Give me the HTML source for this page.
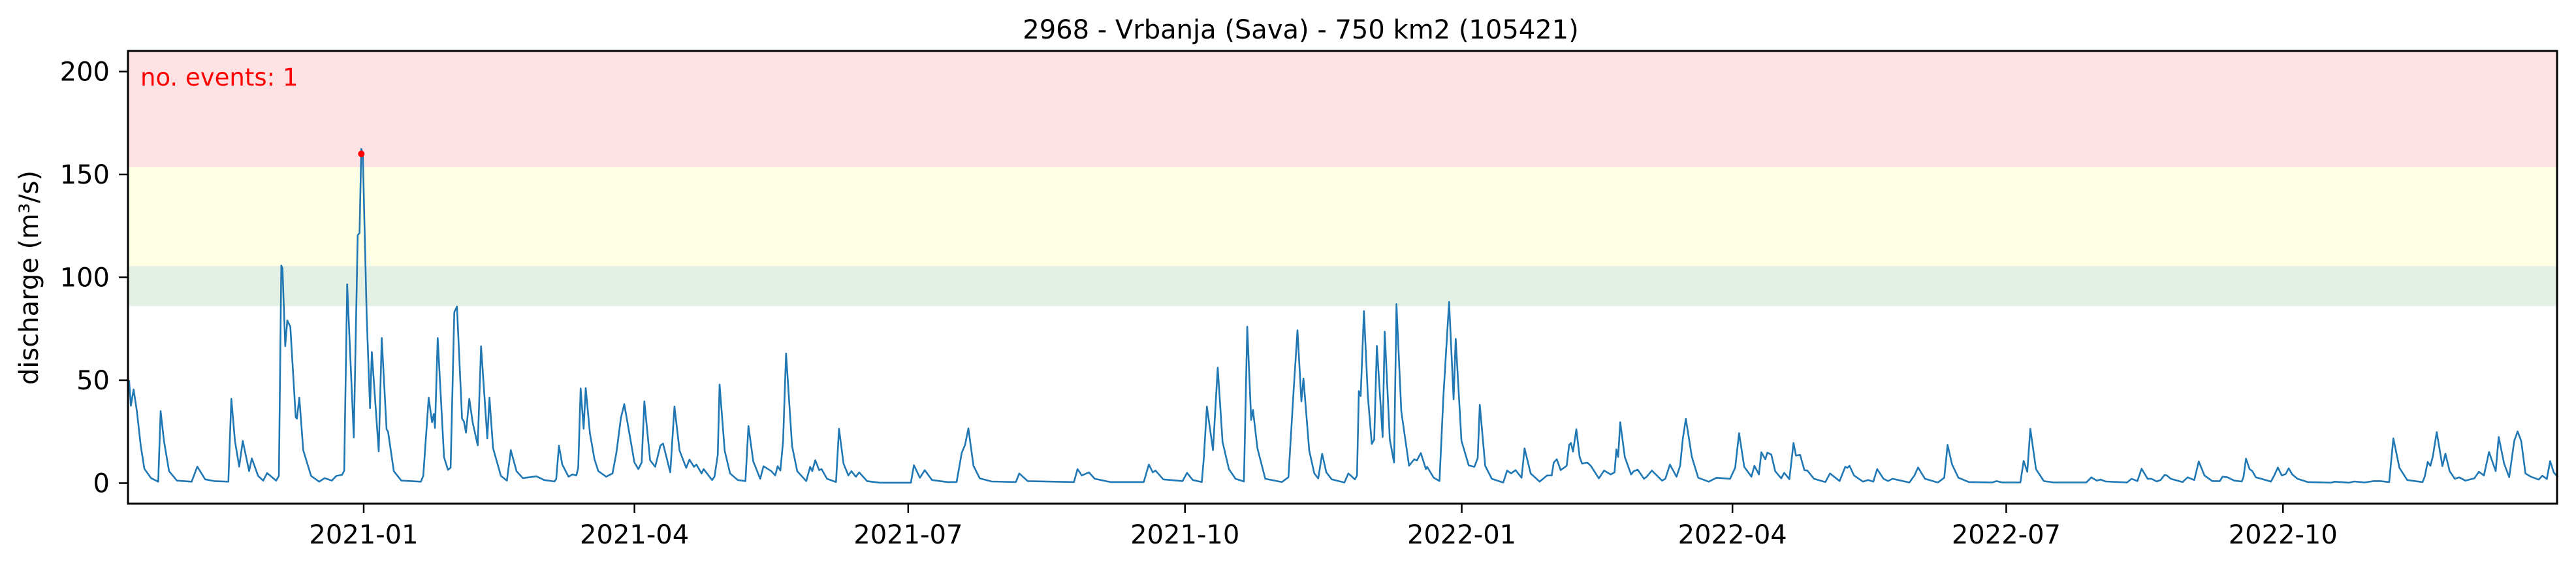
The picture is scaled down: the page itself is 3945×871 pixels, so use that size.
<!DOCTYPE html>
<html><head><meta charset="utf-8"><style>
html,body{margin:0;padding:0;background:#fff;}
svg{display:block;font-family:"DejaVu Sans","Liberation Sans",sans-serif;}
</style></head><body>
<svg id="chart" width="3945" height="871" viewBox="0 0 3945 871" xmlns="http://www.w3.org/2000/svg">
<text x="1992" y="59" font-size="40" text-anchor="middle" fill="#000">2968 - Vrbanja (Sava) - 750 km2 (105421)</text>
<g id="bands"></g>
<g id="grid"></g>
<g id="xaxis"></g>
<path id="series" fill="none" stroke="#1f77b4" stroke-width="2.6" stroke-linejoin="round"></path>
<circle id="event" r="5" fill="#ff0000"></circle>
<text x="215" y="131" font-size="37" fill="#ff0000">no. events: 1</text>
<rect x="196" y="78" width="3720" height="693" fill="none" stroke="#000" stroke-width="3"></rect>
<text transform="translate(58,425) rotate(-90)" font-size="40" text-anchor="middle" fill="#000">discharge (m³/s)</text>
</svg>
<script>
const days = [0,0.6,1.5,2.6,3.9,5.1,7.3,9.7,10.5,11.6,13.3,15.9,20.8,22.7,25.3,28.3,33,34,35.2,36.6,37.8,39.9,40.8,42.9,44.6,45.9,48.9,49.8,50.6,51,51.9,52.6,53.6,55.4,55.8,56.6,57.9,60.5,63.2,65,67.4,68.9,70.8,71.5,72.5,74.7,76,76.6,77.2,77.7,79,80.1,80.7,83,84,85.6,86.1,88,90.5,97,97.8,99.6,100.7,101.3,101.7,102.6,104.7,106,106.9,108.1,109,110.7,111.3,112,113.1,114.2,115.9,117,119.1,119.8,121,123.6,125.6,126.9,128.8,130.9,
135.4,138,141.4,142,142.9,144,146.1,147.4,148.7,149.3,150.1,151.1,151.8,153.2,154.7,156,158.6,160.7,162,163.5,164.6,166.3,168,169.3,170.4,171.3,173.2,174.9,176.6,177.5,179.9,181.3,183,185.2,186.3,187.8,188.6,190.3,191,193.8,194.6,195.7,196.3,198,199.8,202.3,204.9,205.9,207.5,209.8,210.9,213.5,214.8,215.6,216.5,217.4,218.4,220.4,222.1,225.1,226.4,227.1,228.1,229.4,230.2,232,235,236,237.5,239.1,240.1,241.6,242.7,245.3,249.5,259.9,260.9,262.9,
264.5,266.9,272.1,275.1,276.8,277.9,279,280.7,282.8,286.7,294.8,295.9,298.7,314.1,315.3,316.7,319.1,321,326.2,337.3,339,340.3,341.2,343.8,350.2,351.7,353.6,356.6,357.3,358.3,360.3,361.9,363.5,365.6,367.8,370.6,371.7,373,373.6,375.1,377.7,383.2,385.4,387.1,388.4,389.7,390.4,392.3,394,395.3,
396.6,398,399.8,404,405.3,407.5,408.2,408.8,409.4,410.5,411.8,413.1,413.9,414.8,416.7,417.4,419.1,420.5,421.3,422.9,425.5,427.2,428.1,429.4,431.1,431.5,433.7,435.6,436.9,438.8,440.3,441,442.9,444.4,445.3,447.2,448.3,449,450.8,453,456.8,458.1,459.4,460.9,462.9,463.9,465.9,468.9,471.4,472.9,473.6,474.6,475.9,477.9,478.7,479.3,480,481.1,482.2,483,484.7,485.9,488.6,490.3,492.5,493.8,494.4,495,495.7,497.2,499.3,500.2,501.5,503.6,504.5,506.2,509.6,510.7,512.2,514.4,515.6,516.5,517.5,519.5,521.6,525.1,527.7,
532.2,533.9,535.2,536.9,539.3,540.3,541.8,542.6,543.9,544.6,545.9,547.2,549.2,550.2,551.9,553.3,554.1,555.5,556.9,557.9,560.1,563.9,565.4,568.6,570.5,571.2,571.9,573.4,576.4,578.1,579.8,581.1,583.2,584.7,586.2,591.8,593.5,594.7,597,601.3,603.4,604.5,606,608.1,611.6,619.3,620.8,622.7,628.7,629.8,631,632,633.9,636.5,639.9,650.6,652.3,654.1,655.3,657.1,
664.1,665.7,667.6,669,671,672.3,674,675.3,676.6,677.4,678.7,682.6,684.3,686.5,688,689.9,692.5,695,695.9,697.6,699.8,702.3,702.9,703.7,704.9,705.8,707,708.8,712,713.1,714.3,715.6,716.9,717.9,719.1,720.8,724.2,732,733.2,738,739.7,743.1,746.1,748.3,751.3,752.7,754.7,757.3,762.4,763.1,764.1,765,765.8,767.1,769,770,771.4,773.1,774.6,776.6,779.6,781.1,782.8,784.5,786.7,787.7,789.5,791.2,792.9,794,795.2,796.6,798.4,801,802.2,803.7,804.8,806,807.4];
const values = [50,37.6,45.5,35,18,7,2.4,0.7,35,20.5,5.8,1.2,0.7,8,1.8,1,0.7,41,20.5,8,20.5,5.8,12,3.5,1.2,4.9,1.2,3.5,105.7,104.5,66.5,79,76,32,31.3,41.5,16,3.5,0.7,2.4,1.2,3.5,4,6,96.6,22.2,120.4,121.5,162.4,160,80.7,36.4,63.7,15.4,70.5,26.2,25,5.8,1.2,0.7,3.5,41.5,29.6,33.6,26.8,70.5,12.6,6.4,7.5,83,85.8,31.3,30,24.5,41,29.6,18.3,66.5,21.7,41.5,17,3.5,1.2,16,5.8,2.4,
3.3,1.5,0.8,2,18.2,9,3.1,4.2,3.7,7.4,46,26.4,46.2,24.3,11.6,5.8,3.1,4.7,14.8,31.7,38.4,24.3,10,6.8,10,39.7,11.1,7.9,18.2,19.2,5.2,37.2,15.8,7.4,11.4,7.9,9,4.7,6.8,1.5,3.1,13.7,47.9,15.8,4.7,1.5,1,27.7,10.5,2.1,8.2,5.8,3.7,8.2,6.1,20,63,18,5.8,1,7.9,5.8,11.1,6.3,6.8,2.1,0.5,26.4,9.5,3.7,5.8,3.1,5.2,1,0.2,0.2,8.7,2.6,
6.3,1.5,0.5,0.5,14.8,18.5,26.6,8.4,2.3,0.8,0.5,4.7,1,0.5,6.8,3.7,5.2,2.1,0.5,0.5,9,5.2,6.1,1.8,1,5,1.5,0.5,12.7,37.2,16,56.1,20,6.8,2.1,0.8,76,30.7,35.6,16.9,2.1,0.5,2.9,44.4,74.3,39.7,50.8,15.8,4.7,2.3,
14.3,5.2,1.8,0.3,4.7,1.8,3.7,44.7,42.3,83.6,42.3,19,21.1,66.7,22.4,73.6,21.1,10,87,34.9,8.4,11.6,11,14.6,6.8,7.9,2.6,1,42.3,88.1,40.7,70.1,20.6,13.2,8.6,7.9,12.1,38.1,8.4,2.1,0.3,6.1,4.7,6.3,2.6,16.9,4.7,0.7,3.7,3.7,10,11.6,6.3,8.4,18.5,19.5,15.3,26.2,12.7,9.5,10,8.4,2.3,6.1,4.2,5.2,16.4,12.7,29.6,12.7,4.2,5.8,6.5,2.1,3.1,6.1,1.2,2.1,9,3.1,8.4,21.7,31.2,12.7,2.6,0.7,2.6,
2.1,7.4,24.3,7.9,3.1,8.4,4.2,15,11.6,14.8,13.9,5.8,2.3,5,1.9,19.5,13.4,13.7,6.3,6.1,2.1,0.5,4.7,1,7.9,7.4,8.4,3.7,0.7,1.5,0.7,6.8,2.1,1,2.1,0.3,3.7,7.6,2.1,0.3,2.6,18.5,9,2.6,0.5,0.3,1,0.3,0.3,10.8,5.5,26.4,6.8,1,0.3,0.3,2.8,1.2,1.7,0.8,
0.3,2.1,1,7,2.1,2.1,0.8,1.5,3.9,3.7,2.1,0.5,2.8,1.5,10.5,3.7,1,1,3.1,2.8,1.2,0.8,3.1,11.9,6.8,5.8,2.8,2.1,0.7,3.7,7.6,3.7,4.4,7.2,4.2,2.1,0.5,0.2,0.7,0.2,0.8,0.3,1,1,0.5,21.7,7.4,1.5,0.5,3.1,10.3,8.4,12.9,24.8,8.2,14.3,5.8,2.1,2.8,1.2,2.3,5.5,3.7,15.1,5.8,22.4,9.5,2.9,20.6,25.1,20.4,4.7,3.1,1.7,3.6,2,10.7,5.2,2.9,2.5];
const eventDays = [77.2];
const eventValues = [160];
const yTicks = [0,50,100,150,200];
const xTickLabels = ["2021-01","2021-04","2021-07","2021-10","2022-01","2022-04","2022-07","2022-10"];
const xTickDays = [78,168,259,351,443,533,624,716];
const bandLow = [86,105.5,153.5];
const bandHigh = [105.5,153.5,210];

const X0=196, X1=3916, Y0=771, Y1=78;
const Y_MIN=-10, Y_MAX=210;
function xs(d){ return 557 + (d-78)*4.607; }
function ys(v){ return Y0 - (v-Y_MIN)*(Y0-Y1)/(Y_MAX-Y_MIN); }
const NS='http://www.w3.org/2000/svg';
const bandColors=['#e5f0e5','#ffffe3','#ffe3e4'];
const bandNames=['band-green','band-yellow','band-red'];
const bands=document.getElementById('bands');
for(let i=0;i<bandLow.length;i++){
  const r=document.createElementNS(NS,'rect');
  r.setAttribute('x',X0); r.setAttribute('width',X1-X0);
  r.setAttribute('y',ys(bandHigh[i])); r.setAttribute('height',ys(bandLow[i])-ys(bandHigh[i]));
  r.setAttribute('fill',bandColors[i]);
  
  
  bands.appendChild(r);
}
const g=document.getElementById('grid');
yTicks.forEach(t=>{
  const y=ys(t);
  const l=document.createElementNS(NS,'line');
  l.setAttribute('x1',182); l.setAttribute('x2',X0); l.setAttribute('y1',y); l.setAttribute('y2',y);
  l.setAttribute('stroke','#000'); l.setAttribute('stroke-width','2.5');
  
  
  g.appendChild(l);
  const tx=document.createElementNS(NS,'text');
  tx.setAttribute('x',168); tx.setAttribute('y',y+14); tx.setAttribute('font-size','40');
  tx.setAttribute('text-anchor','end'); tx.textContent=t;
  
  
  g.appendChild(tx);
});
const xa=document.getElementById('xaxis');
xTickDays.forEach((d,i)=>{
  const x=xs(d);
  const l=document.createElementNS(NS,'line');
  l.setAttribute('x1',x); l.setAttribute('x2',x); l.setAttribute('y1',Y0); l.setAttribute('y2',Y0+14);
  l.setAttribute('stroke','#000'); l.setAttribute('stroke-width','2.5');
  
  
  xa.appendChild(l);
  const tx=document.createElementNS(NS,'text');
  tx.setAttribute('x',x); tx.setAttribute('y',832); tx.setAttribute('font-size','40');
  tx.setAttribute('text-anchor','middle'); tx.textContent=xTickLabels[i];
  
  
  xa.appendChild(tx);
});
let dstr='';
for(let i=0;i<days.length && i<values.length;i++){
  dstr+=(i?'L':'M')+xs(days[i]).toFixed(1)+','+ys(values[i]).toFixed(1);
}
document.getElementById('series').setAttribute('d',dstr);
const ev=document.getElementById('event');
ev.setAttribute('cx',xs(eventDays[0])); ev.setAttribute('cy',ys(eventValues[0]));
</script>
</body></html>
